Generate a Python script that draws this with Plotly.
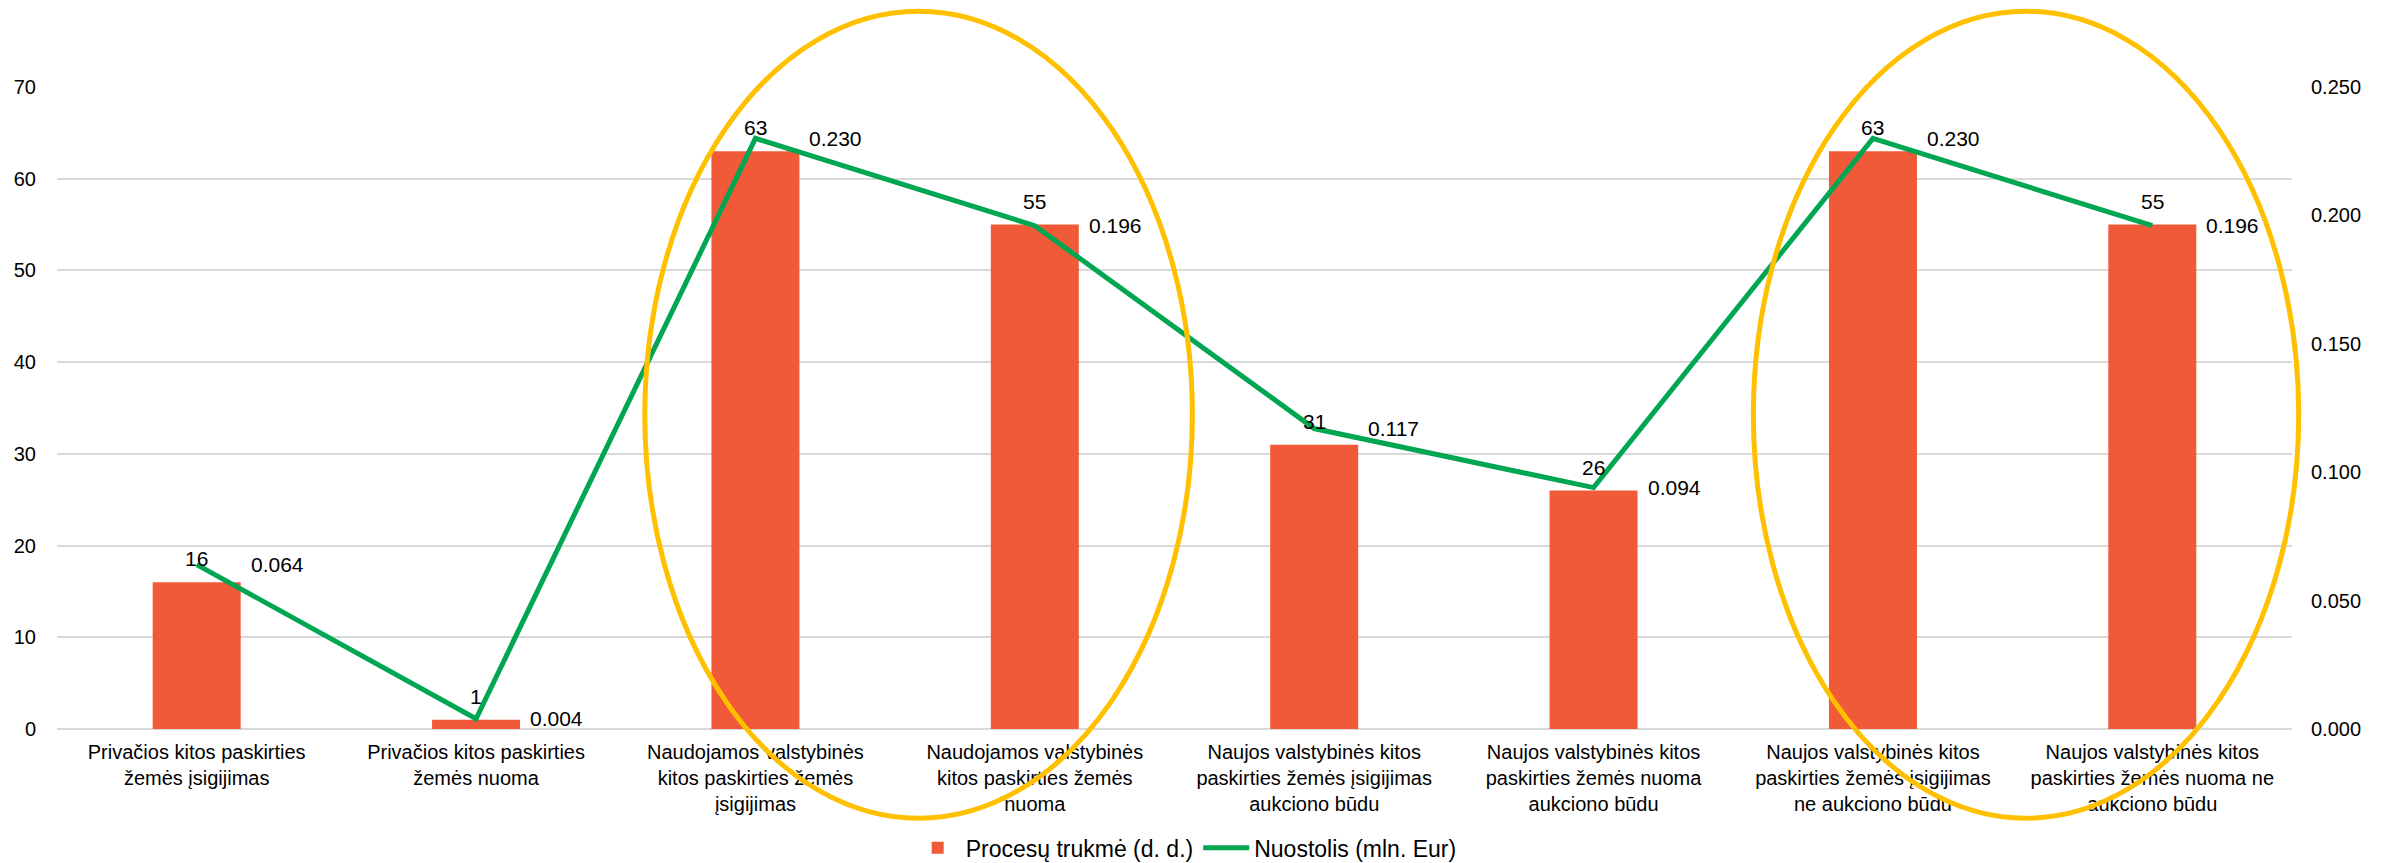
import plotly.graph_objects as go

categories = [
    "Privačios kitos paskirties<br>žemės įsigijimas",
    "Privačios kitos paskirties<br>žemės nuoma",
    "Naudojamos valstybinės<br>kitos paskirties žemės<br>įsigijimas",
    "Naudojamos valstybinės<br>kitos paskirties žemės<br>nuoma",
    "Naujos valstybinės kitos<br>paskirties žemės įsigijimas<br>aukciono būdu",
    "Naujos valstybinės kitos<br>paskirties žemės nuoma<br>aukciono būdu",
    "Naujos valstybinės kitos<br>paskirties žemės įsigijimas<br>ne aukciono būdu",
    "Naujos valstybinės kitos<br>paskirties žemės nuoma ne<br>aukciono būdu",
]
duration_days = [16, 1, 63, 55, 31, 26, 63, 55]
loss_mln_eur = [0.064, 0.004, 0.230, 0.196, 0.117, 0.094, 0.230, 0.196]

left_ticks = [0, 10, 20, 30, 40, 50, 60, 70]
right_ticks = [0.0, 0.05, 0.10, 0.15, 0.20, 0.25]

FONT = "Arial, Liberation Sans, sans-serif"
BAR_COLOR = "#F05A38"
LINE_COLOR = "#00A651"
ELLIPSE_COLOR = "#FFC000"

fig = go.Figure()
fig.add_trace(go.Bar(
    x=categories, y=duration_days, name="Procesų trukmė (d. d.)",
    marker=dict(color=BAR_COLOR, line=dict(width=0)),
))
fig.add_trace(go.Scatter(
    x=categories, y=loss_mln_eur, name="Nuostolis (mln. Eur)", yaxis="y2",
    mode="lines", line=dict(color=LINE_COLOR, width=5),
))

annotations = []
for c, v in zip(categories, duration_days):
    annotations.append(dict(
        x=c, y=v, xref="x", yref="y", text=str(v), showarrow=False,
        xanchor="center", yanchor="bottom", yshift=10,
        font=dict(size=21, color="#000000", family=FONT),
    ))
for c, v in zip(categories, loss_mln_eur):
    annotations.append(dict(
        x=c, y=v, xref="x", yref="y2", text=f"{v:.3f}", showarrow=False,
        xanchor="left", yanchor="middle", xshift=52, yshift=0,
        font=dict(size=21, color="#000000", family=FONT),
    ))

shapes = [
    dict(type="circle", xref="paper", yref="paper", x0=0.263, x1=0.508, y0=-0.139, y1=1.118,
         line=dict(color=ELLIPSE_COLOR, width=5), layer="above"),
    dict(type="circle", xref="paper", yref="paper", x0=0.759, x1=1.003, y0=-0.139, y1=1.118,
         line=dict(color=ELLIPSE_COLOR, width=5), layer="above"),
]

fig.update_layout(
    width=2392, height=863,
    margin=dict(l=57, r=100, t=87, b=134, autoexpand=False),
    paper_bgcolor="white", plot_bgcolor="white",
    font=dict(family=FONT, size=20, color="#000000"),
    bargap=0.685,
    showlegend=True,
    legend=dict(orientation="h", x=0.505, xanchor="center", y=-0.185, yanchor="middle",
                font=dict(size=23), itemwidth=46, traceorder="normal"),
    xaxis=dict(type="category", showgrid=False, showline=False, ticks="",
               tickfont=dict(size=20), tickangle=0, automargin=False,
               ticklabelstandoff=9),
    yaxis=dict(range=[0, 70], tickvals=left_ticks, showgrid=True, gridcolor="#D9D9D9",
               gridwidth=2, zeroline=True, zerolinecolor="#D9D9D9", zerolinewidth=2,
               showline=False, ticks="", ticklabelstandoff=20, tickfont=dict(size=20),
               automargin=False),
    yaxis2=dict(range=[0, 0.25], tickvals=right_ticks, tickformat=".3f", overlaying="y",
                side="right", showgrid=False, zeroline=False, showline=False, ticks="",
                ticklabelstandoff=18, tickfont=dict(size=20), automargin=False),
    annotations=annotations,
    shapes=shapes,
)

fig.write_html("out.html", config={"displayModeBar": False},
               post_script="document.body.style.margin='0';")
